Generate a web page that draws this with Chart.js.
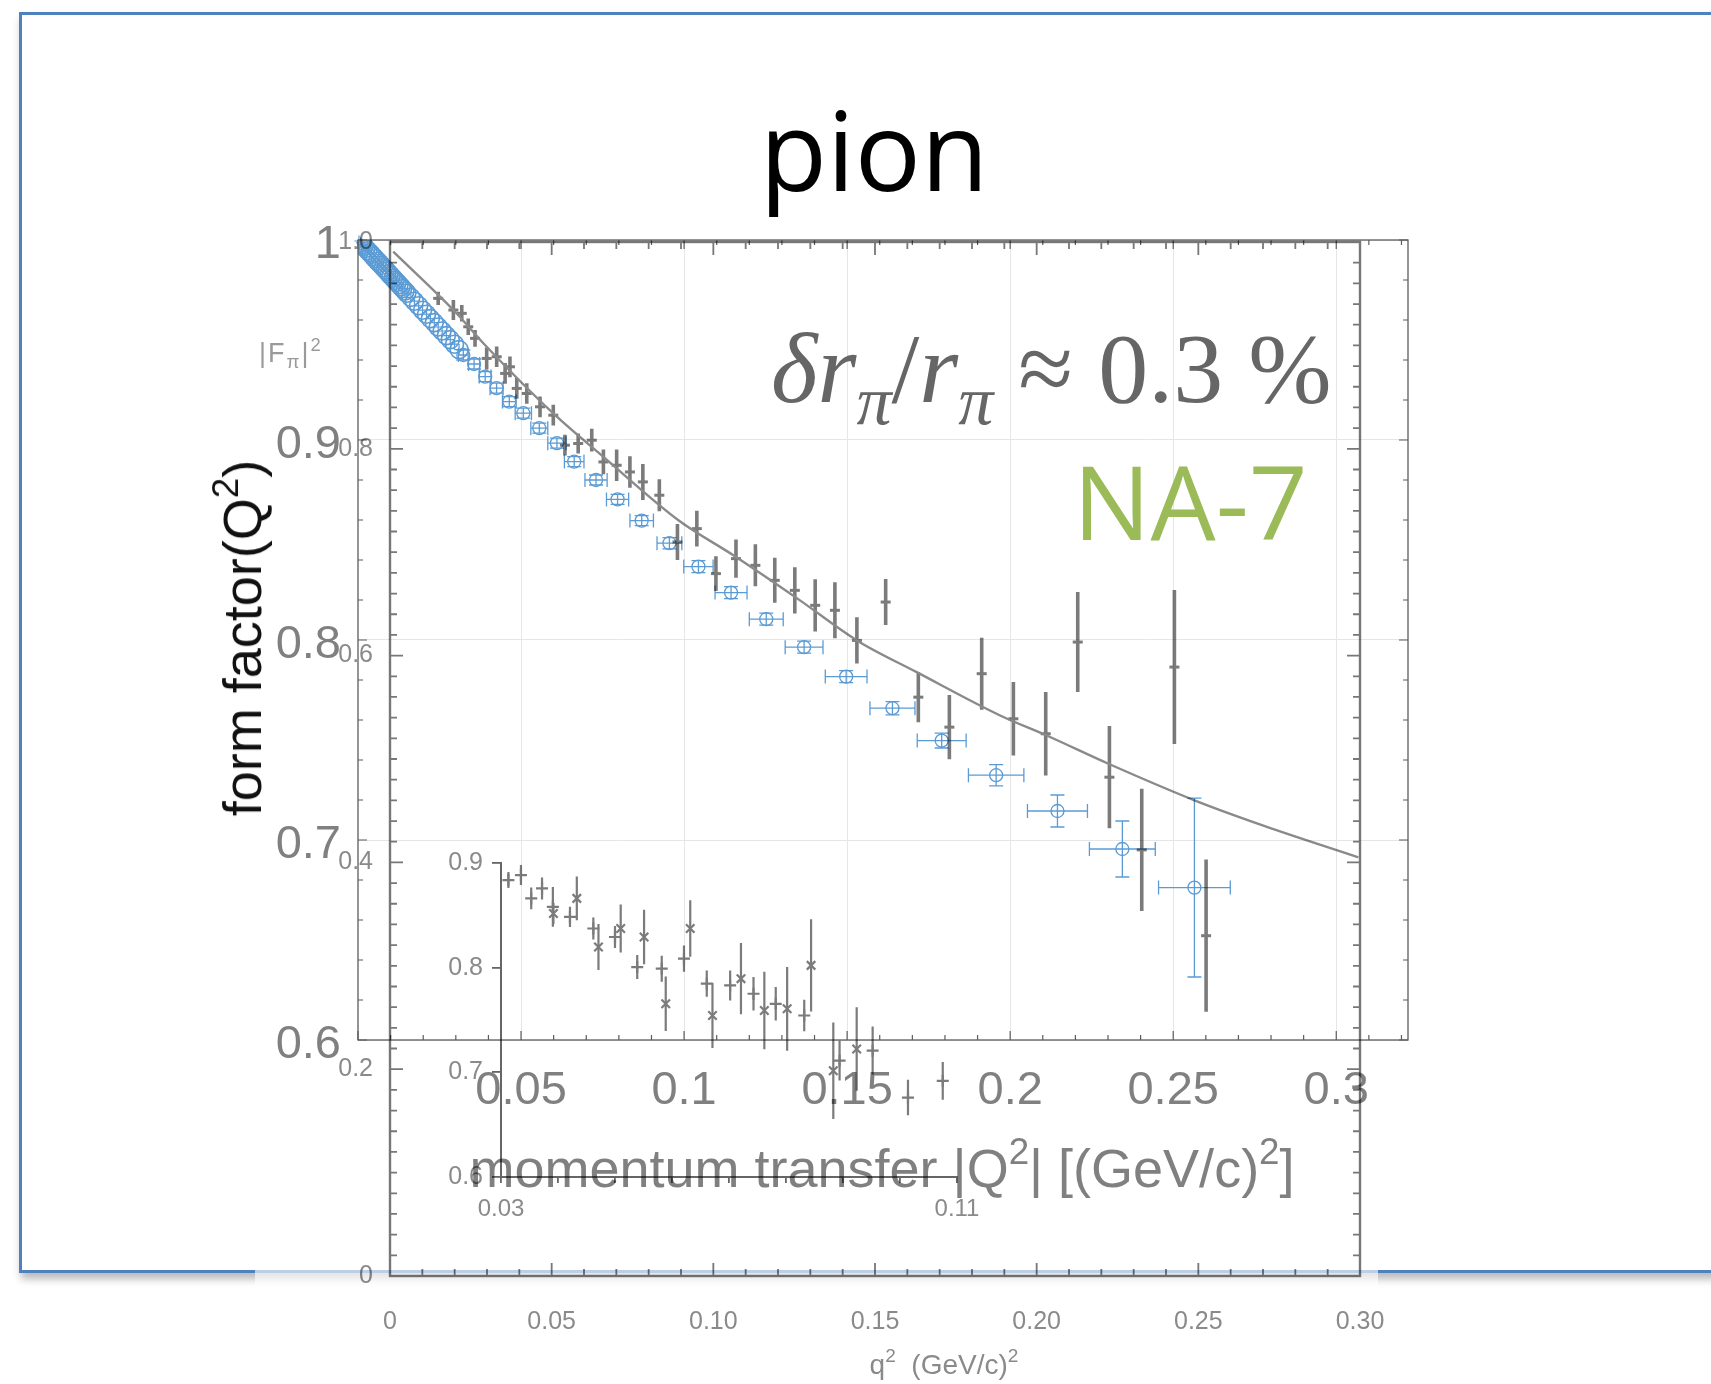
<!DOCTYPE html>
<html>
<head>
<meta charset="utf-8">
<title>pion</title>
<script src="https://cdn.jsdelivr.net/npm/chart.js@4.4.1/dist/chart.umd.min.js"></script>
<style>
  html, body { margin: 0; padding: 0; background: #fff; }
  body { width: 1711px; height: 1384px; position: relative; overflow: hidden; }
  .frame { position: absolute; left: 19px; top: 12px; width: 1760px; height: 1255px;
           border: 3px solid #4f81bd; box-shadow: 2px 6px 8px rgba(0,0,0,0.28); }
  .cover { position: absolute; left: 255px; top: 1258px; width: 1123px; height: 126px;
           background: rgba(255,255,255,0.62); }
  canvas { position: absolute; left: 0; top: 0; }
  #scanChart, #insetChart { mix-blend-mode: multiply; }
  .txt { position: absolute; white-space: nowrap; line-height: 1; }
  .txt sup { font-size: 0.68em; line-height: 0; position: relative; top: -0.62em; vertical-align: baseline; }
  .txt sub { font-size: 0.7em; line-height: 0; position: relative; top: 0.32em; vertical-align: baseline; }
  #title { left: 874px; top: 73px; transform: translateX(-50%); font: 110px 'Open Sans'; color: #000; }
  #yTitle { left: 242px; top: 638px; transform: translate(-50%, -50%) rotate(-90deg);
            font: 54px 'Liberation Sans'; color: #111; }
  #xTitle { left: 882px; top: 1137px; transform: translateX(-50%); font: 54px 'Liberation Sans'; color: #808080; }
  #note { left: 771px; top: 311px; font: 100px 'Liberation Serif'; color: #666; }
  #na7 { left: 1073px; top: 430px; font: 103px 'Open Sans'; color: #9bbb59; }
  #fpi { left: 259px; top: 338px; font: 27px 'Liberation Sans'; color: #9a9a9a; letter-spacing: 2px; }
  #q2 { left: 944px; top: 1349px; transform: translateX(-50%); font: 28px 'Liberation Sans'; color: #8a8a8a; }
</style>
</head>
<body>
<div class="frame"></div>
<div class="cover"></div>

<canvas id="nfChart" width="1711" height="1384"></canvas>

<div class="txt" id="title">pion</div>
<div class="txt" id="yTitle">form factor(Q<sup>2</sup>)</div>
<div class="txt" id="xTitle">momentum transfer |Q<sup>2</sup>| [(GeV/c)<sup>2</sup>]</div>
<div class="txt" id="note"><i>δr</i><sub><i>π</i></sub>/<i>r</i><sub><i>π</i></sub> ≈ 0.3 %</div>
<div class="txt" id="na7">NA-7</div>
<div class="txt" id="fpi">|F<sub>π</sub>|<sup>2</sup></div>
<div class="txt" id="q2">q<sup>2</sup>&nbsp; (GeV/c)<sup>2</sup></div>

<canvas id="scanChart" width="1711" height="1384"></canvas>
<canvas id="insetChart" width="1711" height="1384"></canvas>

<script>
// ---- new measurement: |Q^2| in (GeV/c)^2, form factor ----
// dense low-Q^2 band
const nfBandQ2 = [0.0003, 0.0008, 0.0013, 0.0018, 0.0024, 0.0030, 0.0036, 0.0041, 0.0047, 0.0053, 0.0060, 0.0066, 0.0072,
                  0.0078, 0.0084, 0.0089, 0.0095, 0.0101, 0.0108, 0.0114, 0.0120, 0.0126, 0.0132, 0.0137, 0.0144, 0.0150,
                  0.0162, 0.0173, 0.0186, 0.0198, 0.0210, 0.0222, 0.0234, 0.0246, 0.0258, 0.0271, 0.0283, 0.0296, 0.0310];
const nfBandF2 = [0.9995, 0.9986, 0.9977, 0.9968, 0.9958, 0.9947, 0.9937, 0.9928, 0.9917, 0.9906, 0.9894, 0.9884, 0.9873,
                  0.9862, 0.9852, 0.9843, 0.9832, 0.9821, 0.9809, 0.9798, 0.9788, 0.9777, 0.9766, 0.9757, 0.9745, 0.9734,
                  0.9713, 0.9694, 0.9671, 0.9649, 0.9629, 0.9607, 0.9587, 0.9565, 0.9545, 0.9522, 0.9502, 0.9479, 0.9452];
const nfBandQ2Err = 0.0014;
const nfBandF2Err = 0.0028;

// binned points with errors
const nfQ2 = [0.0323, 0.0356, 0.0390, 0.0425, 0.0464, 0.0507, 0.0556, 0.0610, 0.0663, 0.0730, 0.0796, 0.0870,
              0.0955, 0.1044, 0.1144, 0.1252, 0.1368, 0.1497, 0.1639, 0.1790, 0.1957, 0.2145, 0.2344, 0.2565];
const nfF2 = [0.9425, 0.9380, 0.9317, 0.9259, 0.9192, 0.9134, 0.9059, 0.8984, 0.8892, 0.8800, 0.8703, 0.8597,
              0.8484, 0.8367, 0.8237, 0.8104, 0.7964, 0.7817, 0.7659, 0.7497, 0.7324, 0.7145, 0.6955, 0.6762];
const nfQ2Err = [0.0015, 0.0017, 0.0018, 0.0020, 0.0021, 0.0025, 0.0026, 0.0028, 0.0030, 0.0034, 0.0034, 0.0036,
                 0.0038, 0.0045, 0.0049, 0.0052, 0.0058, 0.0064, 0.0069, 0.0075, 0.0085, 0.0092, 0.0101, 0.0110];
const nfF2Err = [0.0025, 0.0025, 0.0025, 0.0025, 0.0025, 0.0025, 0.0025, 0.0025, 0.0025, 0.0025, 0.0025, 0.0025,
                 0.0028, 0.0030, 0.0030, 0.0030, 0.0030, 0.0030, 0.0033, 0.0037, 0.0053, 0.0080, 0.0140, 0.0447];

const nfXTicks = [0.05, 0.1, 0.15, 0.2, 0.25, 0.3];
const nfXLabels = ['0.05', '0.1', '0.15', '0.2', '0.25', '0.3'];
const nfYTicks = [0.6, 0.7, 0.8, 0.9, 1.0];
const nfYLabels = ['0.6', '0.7', '0.8', '0.9', '1'];

// ---- NA-7 published plot: q^2 in (GeV/c)^2, |F_pi|^2 ----
const scanQ2 = [0.0149, 0.0196, 0.0222, 0.0242, 0.0263, 0.0299, 0.0330, 0.0356, 0.0371, 0.0392, 0.0423, 0.0464, 0.0505, 0.0541,
                0.0582, 0.0624, 0.0660, 0.0701, 0.0742, 0.0782, 0.0833, 0.0889, 0.0949, 0.1008, 0.1070, 0.1130, 0.1190, 0.1252,
                0.1315, 0.1376, 0.1444, 0.1533, 0.1634, 0.1730, 0.1830, 0.1928, 0.2028, 0.2127, 0.2225, 0.2325, 0.2426, 0.2524];
const scanF2 = [0.9455, 0.9342, 0.9310, 0.9180, 0.9068, 0.8874, 0.8890, 0.8729, 0.8793, 0.8584, 0.8535, 0.8406, 0.8325, 0.8035,
                0.8051, 0.8083, 0.7873, 0.7841, 0.7776, 0.7680, 0.7551, 0.7099, 0.7228, 0.6793, 0.6938, 0.6873, 0.6728, 0.6631,
                0.6486, 0.6438, 0.6147, 0.6518, 0.5598, 0.5308, 0.5825, 0.5389, 0.5244, 0.6131, 0.4824, 0.4121, 0.5889, 0.3291];
const scanErr = [0.0065, 0.0097, 0.0080, 0.0080, 0.0080, 0.0106, 0.0100, 0.0100, 0.0100, 0.0100, 0.0100, 0.0100, 0.0100, 0.0100,
                 0.0097, 0.0110, 0.0120, 0.0153, 0.0153, 0.0174, 0.0155, 0.0174, 0.0174, 0.0169, 0.0184, 0.0203, 0.0218, 0.0223,
                 0.0252, 0.0271, 0.0223, 0.0223, 0.0242, 0.0310, 0.0348, 0.0355, 0.0404, 0.0484, 0.0494, 0.0591, 0.0745, 0.0736];

// fitted curve
const curveQ2 = [0.001, 0.0196, 0.0299, 0.0505, 0.0660, 0.0892, 0.1062, 0.1268, 0.1444, 0.1629, 0.1887, 0.2031, 0.2222, 0.2490, 0.2701, 0.2995];
const curveF2 = [0.9906, 0.9342, 0.8987, 0.8342, 0.7922, 0.7309, 0.6970, 0.6534, 0.6147, 0.5840, 0.5421, 0.5227, 0.4954, 0.4598, 0.4356, 0.4049];

const scanXTicks = [0, 0.05, 0.1, 0.15, 0.2, 0.25, 0.3];
const scanXLabels = ['0', '0.05', '0.10', '0.15', '0.20', '0.25', '0.30'];
const scanYTicks = [0, 0.2, 0.4, 0.6, 0.8, 1.0];
const scanYLabels = ['0', '0.2', '0.4', '0.6', '0.8', '1.0'];

// inset (low q^2, zoomed)
const insetPlusQ2 = [0.0313, 0.0335, 0.0353, 0.0372, 0.0391, 0.0421, 0.0462, 0.0500, 0.0539, 0.0582, 0.0621, 0.0661, 0.0702,
                     0.0743, 0.0782, 0.0832, 0.0894, 0.0952, 0.1014, 0.1075];
const insetPlusF2 = [0.8837, 0.8885, 0.8662, 0.8757, 0.8581, 0.8485, 0.8374, 0.8293, 0.8006, 0.7990, 0.8086, 0.7847, 0.7830,
                     0.7751, 0.7655, 0.7543, 0.7111, 0.7207, 0.6759, 0.6919];
const insetPlusErr = [0.0077, 0.0096, 0.0105, 0.0105, 0.0190, 0.0096, 0.0105, 0.0105, 0.0115, 0.0125, 0.0125, 0.0125, 0.0144,
                      0.0160, 0.0160, 0.0150, 0.0190, 0.0230, 0.0170, 0.0180];
const insetCrossQ2 = [0.0392, 0.0433, 0.0471, 0.0510, 0.0551, 0.0589, 0.0632, 0.0671, 0.0721, 0.0762, 0.0802, 0.0844, 0.0883, 0.0924];
const insetCrossF2 = [0.8518, 0.8662, 0.8198, 0.8374, 0.8293, 0.7655, 0.8374, 0.7543, 0.7895, 0.7591, 0.7607, 0.8022, 0.7015, 0.7223];
const insetCrossErr = [0.0100, 0.0210, 0.0220, 0.0230, 0.0260, 0.0260, 0.0270, 0.0310, 0.0340, 0.0370, 0.0400, 0.0440, 0.0460, 0.0400];

const insetXTicks = [0.03, 0.04, 0.05, 0.06, 0.07, 0.08, 0.09, 0.10, 0.11];
const insetXLabels = ['0.03', '', '', '', '', '', '', '', '0.11'];
const insetYTicks = [0.6, 0.7, 0.8, 0.9];
const insetYLabels = ['0.6', '0.7', '0.8', '0.9'];

const BLUE = 'rgb(91,155,213)';
const SCAN = '#7b7b7b';

// helpers
const pin = (values) => (scale) => { scale.ticks = values.map(v => ({ value: v })); };
// fixed axis box size so the plot area lands exactly where the layout padding puts it
const fixedSize = (size) => (scale) => { if (scale.isHorizontal()) scale.height = size; else scale.width = size; };
const isMultiple = (v, step) => Math.abs(v / step - Math.round(v / step)) < 1e-6;
const points = (xs, ys, ex, ey) => xs.map((x, i) => ({
  x, y: ys[i],
  ex: Array.isArray(ex) ? ex[i] : ex,
  ey: Array.isArray(ey) ? ey[i] : ey
}));

// error bars drawn underneath the markers
const errorBars = {
  id: 'errorBars',
  beforeDatasetsDraw(chart) {
    const ctx = chart.ctx;
    chart.data.datasets.forEach((ds, i) => {
      const st = ds.errStyle;
      if (!st) return;
      const meta = chart.getDatasetMeta(i);
      const xs = chart.scales[meta.xAxisID], ys = chart.scales[meta.yAxisID];
      ctx.save();
      ctx.strokeStyle = st.color;
      ctx.lineWidth = st.width;
      ctx.beginPath();
      ds.data.forEach(p => {
        const px = xs.getPixelForValue(p.x), py = ys.getPixelForValue(p.y);
        if (p.ex) {
          const x0 = xs.getPixelForValue(p.x - p.ex), x1 = xs.getPixelForValue(p.x + p.ex);
          ctx.moveTo(x0, py); ctx.lineTo(x1, py);
          if (st.cap) {
            ctx.moveTo(x0, py - st.cap); ctx.lineTo(x0, py + st.cap);
            ctx.moveTo(x1, py - st.cap); ctx.lineTo(x1, py + st.cap);
          }
        }
        if (p.ey) {
          const y0 = ys.getPixelForValue(p.y - p.ey), y1 = ys.getPixelForValue(p.y + p.ey);
          ctx.moveTo(px, y0); ctx.lineTo(px, y1);
          if (st.cap) {
            ctx.moveTo(px - st.cap, y0); ctx.lineTo(px + st.cap, y0);
            ctx.moveTo(px - st.cap, y1); ctx.lineTo(px + st.cap, y1);
          }
        }
      });
      ctx.stroke();
      ctx.restore();
    });
  }
};

// box around the plot with inward minor/major ticks
const frameTicks = {
  id: 'frameTicks',
  afterDatasetsDraw(chart, args, o) {
    if (!o || !o.color) return;
    const ctx = chart.ctx, a = chart.chartArea;
    const xs = chart.scales.x, ys = chart.scales.y;
    ctx.save();
    ctx.strokeStyle = o.color;
    ctx.lineWidth = o.frameWidth;
    ctx.strokeRect(a.left, a.top, a.right - a.left, a.bottom - a.top);
    ctx.lineWidth = o.tickWidth;
    ctx.beginPath();
    const [x0, x1, xStep, xMajor] = o.x;
    for (let k = 0; k <= Math.round((x1 - x0) / xStep); k++) {
      const v = x0 + k * xStep;
      const len = isMultiple(v, xMajor) ? o.major : o.minor;
      const px = xs.getPixelForValue(v);
      ctx.moveTo(px, a.bottom); ctx.lineTo(px, a.bottom - len);
      ctx.moveTo(px, a.top); ctx.lineTo(px, a.top + len);
    }
    const [y0, y1, yStep, yMajor] = o.y;
    for (let k = 0; k <= Math.round((y1 - y0) / yStep); k++) {
      const v = y0 + k * yStep;
      const len = isMultiple(v, yMajor) ? o.major : o.minor;
      const py = ys.getPixelForValue(v);
      ctx.moveTo(a.left, py); ctx.lineTo(a.left + len, py);
      ctx.moveTo(a.right, py); ctx.lineTo(a.right - len, py);
    }
    ctx.stroke();
    ctx.restore();
  }
};

const base = {
  responsive: false,
  animation: false,
  devicePixelRatio: 1,
  events: [],
};

// new form factor data  (plot area 358..1408 x 240..1040)
new Chart(document.getElementById('nfChart'), {
  type: 'scatter',
  data: {
    datasets: [
      {
        data: points(nfBandQ2, nfBandF2, nfBandQ2Err, nfBandF2Err),
        pointRadius: 9, pointBorderWidth: 1.6,
        pointBorderColor: BLUE, pointBackgroundColor: 'rgba(0,0,0,0)',
        errStyle: { color: BLUE, width: 1.2, cap: 0 }
      },
      {
        data: points(nfQ2, nfF2, nfQ2Err, nfF2Err),
        pointRadius: 6.5, pointBorderWidth: 1.3,
        pointBorderColor: BLUE, pointBackgroundColor: 'rgba(0,0,0,0)',
        errStyle: { color: BLUE, width: 1.3, cap: 7 }
      }
    ]
  },
  options: {
    ...base,
    layout: { padding: { left: 228, right: 303, top: 240, bottom: 254 } },
    plugins: {
      legend: { display: false },
      tooltip: { enabled: false },
      frameTicks: { color: '#5c5c5c', frameWidth: 1.3, tickWidth: 1.2, major: 9, minor: 5,
                    x: [0, 0.32, 0.01, 0.05], y: [0.6, 1.0, 0.02, 0.1] }
    },
    scales: {
      x: {
        type: 'linear', min: 0, max: 0.322,
        afterBuildTicks: pin(nfXTicks), afterFit: fixedSize(90),
        grid: { color: '#e6e6e6', lineWidth: 1, drawTicks: false },
        border: { display: false },
        ticks: { padding: 23, color: '#808080', autoSkip: false, maxRotation: 0,
                 font: { family: 'Liberation Sans', size: 47 },
                 callback: (v, i) => nfXLabels[i] }
      },
      y: {
        type: 'linear', min: 0.6, max: 1.0,
        afterBuildTicks: pin(nfYTicks), afterFit: fixedSize(130),
        grid: { color: '#e6e6e6', lineWidth: 1, drawTicks: false },
        border: { display: false },
        ticks: { padding: 17, labelOffset: 5, color: '#808080', autoSkip: false,
                 font: { family: 'Liberation Sans', size: 47 },
                 callback: (v, i) => nfYLabels[i] }
      }
    }
  },
  plugins: [errorBars, frameTicks]
});

// NA-7 |F_pi|^2 with fit  (plot area 390..1360 x 242..1276)
new Chart(document.getElementById('scanChart'), {
  type: 'scatter',
  data: {
    datasets: [
      {
        data: curveQ2.map((q, i) => ({ x: q, y: curveF2[i] })),
        showLine: true, pointRadius: 0, borderColor: '#8a8a8a', borderWidth: 2.4,
        cubicInterpolationMode: 'monotone'
      },
      {
        data: points(scanQ2, scanF2, 0, scanErr),
        pointStyle: 'line', pointRadius: 5, pointBorderWidth: 3,
        pointBorderColor: SCAN, pointBackgroundColor: SCAN,
        errStyle: { color: SCAN, width: 3.6, cap: 0 }
      }
    ]
  },
  options: {
    ...base,
    layout: { padding: { left: 310, right: 351, top: 242, bottom: 38 } },
    plugins: {
      legend: { display: false },
      tooltip: { enabled: false },
      frameTicks: { color: '#777', frameWidth: 2.4, tickWidth: 1.8, major: 13, minor: 7,
                    x: [0, 0.3, 0.01, 0.05], y: [0, 1.0, 0.02, 0.2] }
    },
    scales: {
      x: {
        type: 'linear', min: 0, max: 0.3,
        afterBuildTicks: pin(scanXTicks), afterFit: fixedSize(70),
        grid: { display: false }, border: { display: false },
        ticks: { padding: 23, color: '#8a8a8a', autoSkip: false, maxRotation: 0,
                 font: { family: 'Liberation Sans', size: 25 },
                 callback: (v, i) => scanXLabels[i] }
      },
      y: {
        type: 'linear', min: 0, max: 1.0,
        afterBuildTicks: pin(scanYTicks), afterFit: fixedSize(80),
        grid: { display: false }, border: { display: false },
        ticks: { padding: 9, color: '#8a8a8a', autoSkip: false,
                 font: { family: 'Liberation Sans', size: 25 },
                 callback: (v, i) => scanYLabels[i] }
      }
    }
  },
  plugins: [errorBars, frameTicks]
});

// inset: low q^2 region  (plot area 501..957 x 863..1177)
new Chart(document.getElementById('insetChart'), {
  type: 'scatter',
  data: {
    datasets: [
      {
        data: points(insetPlusQ2, insetPlusF2, 0, insetPlusErr),
        pointStyle: 'cross', pointRadius: 6, pointBorderWidth: 2.2,
        pointBorderColor: SCAN,
        errStyle: { color: SCAN, width: 2.2, cap: 0 }
      },
      {
        data: points(insetCrossQ2, insetCrossF2, 0, insetCrossErr),
        pointStyle: 'crossRot', pointRadius: 6, pointBorderWidth: 2.2,
        pointBorderColor: SCAN,
        errStyle: { color: SCAN, width: 2.2, cap: 0 }
      }
    ]
  },
  options: {
    ...base,
    layout: { padding: { left: 421, right: 754, top: 863, bottom: 147 } },
    plugins: { legend: { display: false }, tooltip: { enabled: false } },
    scales: {
      x: {
        type: 'linear', min: 0.03, max: 0.11,
        afterBuildTicks: pin(insetXTicks), afterFit: fixedSize(60),
        grid: { drawOnChartArea: false, color: '#666', tickLength: 6, lineWidth: 1.8 },
        border: { display: true, color: '#666', width: 2 },
        ticks: { padding: 12, color: '#8a8a8a', autoSkip: false, maxRotation: 0,
                 font: { family: 'Liberation Sans', size: 24 },
                 callback: (v, i) => insetXLabels[i] }
      },
      y: {
        type: 'linear', min: 0.6, max: 0.9,
        afterBuildTicks: pin(insetYTicks), afterFit: fixedSize(80),
        grid: { drawOnChartArea: false, color: '#666', tickLength: 9, lineWidth: 1.8 },
        border: { display: true, color: '#666', width: 2 },
        ticks: { padding: 9, color: '#8a8a8a', autoSkip: false,
                 font: { family: 'Liberation Sans', size: 25 },
                 callback: (v, i) => insetYLabels[i] }
      }
    }
  },
  plugins: [errorBars]
});
</script>
</body>
</html>
